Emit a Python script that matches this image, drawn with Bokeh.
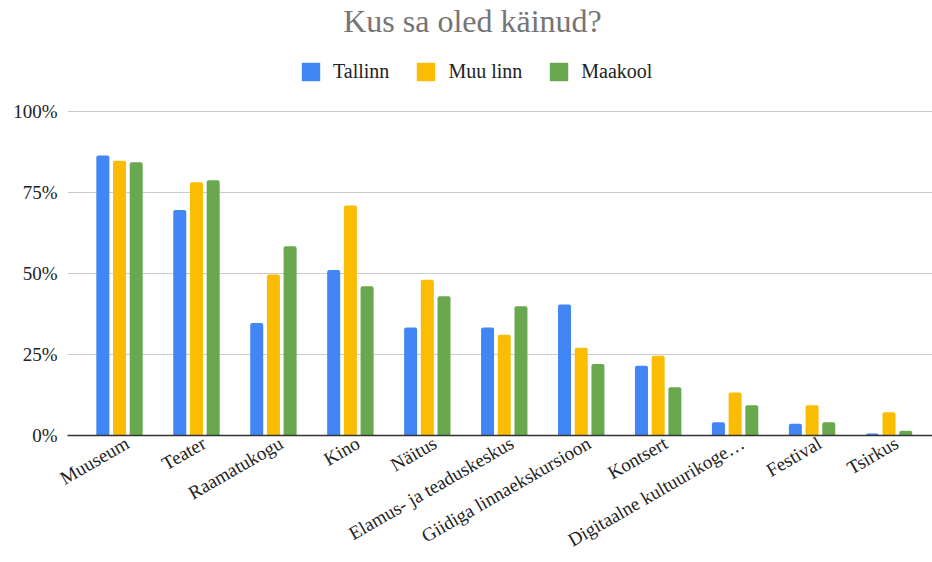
from bokeh.plotting import figure
from bokeh.models import (ColumnDataSource, FixedTicker, NumeralTickFormatter, Range1d,
                          Legend, LegendItem, Label)
from bokeh.transform import dodge
from bokeh.embed import file_html
from bokeh.resources import INLINE
from math import pi

categories = ["Muuseum", "Teater", "Raamatukogu", "Kino", "Näitus",
              "Elamus- ja teaduskeskus", "Giidiga linnaekskursioon", "Kontsert",
              "Digitaalne kultuurikoge…", "Festival", "Tsirkus"]
tallinn = [0.864, 0.696, 0.347, 0.511, 0.333, 0.333, 0.404, 0.215, 0.041, 0.036, 0.006]
muu_linn = [0.848, 0.782, 0.497, 0.710, 0.481, 0.311, 0.271, 0.246, 0.133, 0.093, 0.072]
maakool = [0.843, 0.788, 0.584, 0.461, 0.430, 0.399, 0.221, 0.149, 0.093, 0.041, 0.015]
series_names = ["Tallinn", "Muu linn", "Maakool"]
colors = ["#4285F4", "#FBBC04", "#6AA84F"]
y_ticks = [0, 0.25, 0.5, 0.75, 1.0]

FONT = "Liberation Serif"

xs = list(range(len(categories)))
src = ColumnDataSource(dict(x=xs, tallinn=tallinn, muu=muu_linn, maakool=maakool))

# frame spans the whole upper area (title + legend live inside it, above the 100% line)
p = figure(width=932, height=562, output_backend="svg", toolbar_location=None,
           x_range=Range1d(-0.676, 10.565), y_range=Range1d(0, 435 / 324),
           min_border_left=67, min_border_right=0, min_border_top=0,
           min_border_bottom=127)
p.outline_line_color = None
p.background_fill_color = "white"

offsets = [-0.217, 0.0, 0.217]
fields = ["tallinn", "muu", "maakool"]
renderers = []
for f, off, c in zip(fields, offsets, colors):
    r = p.vbar(x=dodge("x", off, range=p.x_range), top=f, width=0.169, bottom=0,
               source=src, fill_color=c, line_color=None,
               border_radius=(2, 2, 0, 0))
    renderers.append(r)

# y axis
p.yaxis.ticker = FixedTicker(ticks=y_ticks)
p.yaxis.formatter = NumeralTickFormatter(format="0%")
p.yaxis.axis_line_color = None
p.yaxis.major_tick_line_color = None
p.yaxis.major_tick_out = 0
p.yaxis.minor_tick_line_color = None
p.yaxis.major_label_text_font = FONT
p.yaxis.major_label_text_font_size = "19px"
p.yaxis.major_label_text_color = "#222222"
p.yaxis.major_label_standoff = 10

# x axis: rotated category labels (label anchors nudged right of bar groups)
label_pos = [i + 0.1 for i in xs]
p.xaxis.ticker = FixedTicker(ticks=label_pos)
p.xaxis.major_label_overrides = {lp: c for lp, c in zip(label_pos, categories)}
p.xaxis.major_label_orientation = pi / 6
p.xaxis.axis_line_color = "#333333"
p.xaxis.axis_line_width = 1.5
p.xaxis.major_tick_line_color = None
p.xaxis.major_tick_out = 0
p.xaxis.minor_tick_line_color = None
p.xaxis.major_label_text_font = FONT
p.xaxis.major_label_text_font_size = "19px"
p.xaxis.major_label_text_color = "#222222"
p.xaxis.major_label_standoff = 6

p.xgrid.grid_line_color = None
p.ygrid.ticker = FixedTicker(ticks=y_ticks)
p.ygrid.grid_line_color = "#cccccc"
p.ygrid.grid_line_width = 1

# title
title = Label(x=405, y=415, x_units="screen", y_units="screen",
              text="Kus sa oled käinud?", text_font=FONT, text_font_size="32px",
              text_color="#757575", text_align="center", text_baseline="middle")
p.add_layout(title)

# legend
legend = Legend(items=[LegendItem(label=n, renderers=[r]) for n, r in zip(series_names, renderers)],
                orientation="horizontal", location=(232, 352),
                glyph_width=23, glyph_height=23, label_height=23,
                label_standoff=11, spacing=25, padding=0, margin=0,
                label_text_font=FONT, label_text_font_size="20px",
                label_text_color="#222222", border_line_color=None,
                background_fill_alpha=0)
p.add_layout(legend)

open("out.html", "w").write(file_html(p, INLINE))
